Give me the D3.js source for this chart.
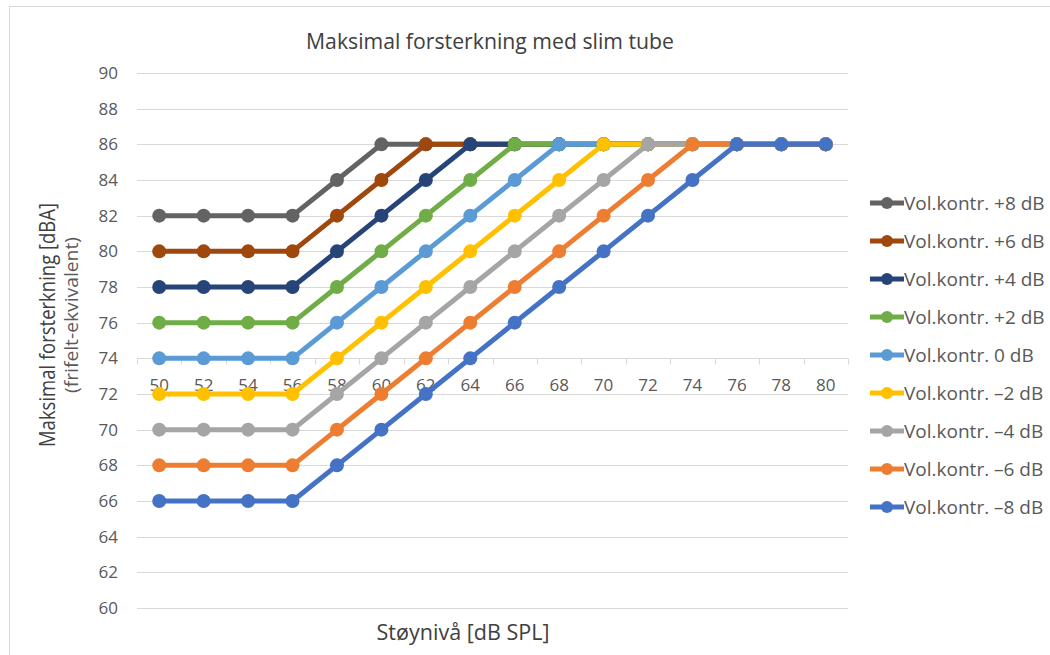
<!DOCTYPE html>
<html>
<head>
<meta charset="utf-8">
<script src="https://cdn.jsdelivr.net/npm/d3@7"></script>
<style>
  body { margin: 0; background: #fff; }
  text { font-family: "Open Sans", "DejaVu Sans", sans-serif; }
</style>
</head>
<body>
<div id="chart"></div>
<script>
// Kategorier (støynivå dB SPL)
var categories = [50, 52, 54, 56, 58, 60, 62, 64, 66, 68, 70, 72, 74, 76, 78, 80];

// Serier, lest av bildet
var seriesNames = ["Vol.kontr. +8 dB", "Vol.kontr. +6 dB", "Vol.kontr. +4 dB", "Vol.kontr. +2 dB",
                   "Vol.kontr. 0 dB", "Vol.kontr. –2 dB", "Vol.kontr. –4 dB", "Vol.kontr. –6 dB", "Vol.kontr. –8 dB"];
var plus8  = [82, 82, 82, 82, 84, 86, 86, 86, 86, 86, 86, 86, 86, 86, 86, 86];
var plus6  = [80, 80, 80, 80, 82, 84, 86, 86, 86, 86, 86, 86, 86, 86, 86, 86];
var plus4  = [78, 78, 78, 78, 80, 82, 84, 86, 86, 86, 86, 86, 86, 86, 86, 86];
var plus2  = [76, 76, 76, 76, 78, 80, 82, 84, 86, 86, 86, 86, 86, 86, 86, 86];
var zero   = [74, 74, 74, 74, 76, 78, 80, 82, 84, 86, 86, 86, 86, 86, 86, 86];
var minus2 = [72, 72, 72, 72, 74, 76, 78, 80, 82, 84, 86, 86, 86, 86, 86, 86];
var minus4 = [70, 70, 70, 70, 72, 74, 76, 78, 80, 82, 84, 86, 86, 86, 86, 86];
var minus6 = [68, 68, 68, 68, 70, 72, 74, 76, 78, 80, 82, 84, 86, 86, 86, 86];
var minus8 = [66, 66, 66, 66, 68, 70, 72, 74, 76, 78, 80, 82, 84, 86, 86, 86];
var seriesValues = [plus8, plus6, plus4, plus2, zero, minus2, minus4, minus6, minus8];
var seriesColors = ["#636363", "#9e480e", "#264478", "#70ad47", "#5b9bd5", "#ffc000", "#a5a5a5", "#ed7d31", "#4472c4"];

// Y-akse
var yTicks = [60, 62, 64, 66, 68, 70, 72, 74, 76, 78, 80, 82, 84, 86, 88, 90];
var axisCrossing = 74;

var width = 1050, height = 655;
var margin = { top: 73, right: 202, bottom: 47, left: 137 };

var svg = d3.select("#chart").append("svg")
    .attr("width", width)
    .attr("height", height);

// Ramme rundt diagrammet
svg.append("rect")
    .attr("x", 9.5).attr("y", 6.5)
    .attr("width", width + 10).attr("height", height + 10)
    .attr("fill", "none")
    .attr("stroke", "#d9d9d9")
    .attr("stroke-width", 1);

var x = d3.scaleBand()
    .domain(categories)
    .range([margin.left, width - margin.right]);

var y = d3.scaleLinear()
    .domain([60, 90])
    .range([height - margin.bottom, margin.top]);

// Rutenett
svg.append("g")
    .selectAll("line")
    .data(yTicks)
    .enter()
    .append("line")
    .attr("x1", margin.left)
    .attr("x2", width - margin.right)
    .attr("y1", function(d) { return Math.round(y(d)) + 0.5; })
    .attr("y2", function(d) { return Math.round(y(d)) + 0.5; })
    .attr("stroke", "#d9d9d9")
    .attr("stroke-width", 1);

// Y-tall
svg.append("g")
    .selectAll("text")
    .data(yTicks)
    .enter()
    .append("text")
    .attr("x", margin.left - 19)
    .attr("y", function(d) { return y(d); })
    .attr("dy", "0.35em")
    .attr("text-anchor", "end")
    .style("font-size", "17px")
    .style("fill", "#595959")
    .text(function(d) { return d; });

// X-akse ved 74
var xAxis = svg.append("g")
    .attr("transform", "translate(0," + (Math.round(y(axisCrossing)) + 0.5) + ")");
xAxis.append("line")
    .attr("x1", margin.left).attr("x2", width - margin.right)
    .attr("stroke", "#d9d9d9");
xAxis.selectAll("line.tick")
    .data(categories.concat(["end"]))
    .enter()
    .append("line")
    .attr("class", "tick")
    .attr("x1", function(d, i) { return Math.round(margin.left + i * x.step()) + 0.5; })
    .attr("x2", function(d, i) { return Math.round(margin.left + i * x.step()) + 0.5; })
    .attr("y1", 0).attr("y2", 6)
    .attr("stroke", "#d9d9d9");

// Serier: linjer og markører
var line = d3.line()
    .x(function(d, i) { return x(categories[i]) + x.bandwidth() / 2; })
    .y(function(d) { return y(d); });

seriesValues.forEach(function(vals, s) {
    var g = svg.append("g");
    g.append("path")
        .datum(vals)
        .attr("d", line)
        .attr("fill", "none")
        .attr("stroke", seriesColors[s])
        .attr("stroke-width", 5)
        .attr("stroke-linejoin", "round");
    g.selectAll("circle")
        .data(vals)
        .enter()
        .append("circle")
        .attr("cx", function(d, i) { return x(categories[i]) + x.bandwidth() / 2; })
        .attr("cy", function(d) { return y(d); })
        .attr("r", 7)
        .attr("fill", seriesColors[s]);
});

// X-tall (tegnes over linjene)
xAxis.selectAll("text")
    .data(categories)
    .enter()
    .append("text")
    .attr("x", function(d) { return x(d) + x.bandwidth() / 2; })
    .attr("y", 27)
    .attr("dy", "0.35em")
    .attr("text-anchor", "middle")
    .style("font-size", "17px")
    .style("fill", "#595959")
    .text(function(d) { return d; });

// Tittel (smal skrift, presses med textLength)
svg.append("text")
    .attr("x", 490)
    .attr("y", 49)
    .attr("text-anchor", "middle")
    .attr("textLength", 368)
    .attr("lengthAdjust", "spacingAndGlyphs")
    .style("font-size", "22px")
    .style("fill", "#404040")
    .text("Maksimal forsterkning med slim tube");

// Akse-titler
svg.append("text")
    .attr("transform", "translate(55,325) rotate(-90)")
    .attr("text-anchor", "middle")
    .attr("textLength", 244)
    .attr("lengthAdjust", "spacingAndGlyphs")
    .style("font-size", "21px")
    .style("fill", "#404040")
    .text("Maksimal forsterkning [dBA]");

svg.append("text")
    .attr("transform", "translate(78,315) rotate(-90)")
    .attr("text-anchor", "middle")
    .attr("textLength", 156)
    .attr("lengthAdjust", "spacingAndGlyphs")
    .style("font-size", "19px")
    .style("fill", "#595959")
    .text("(frifelt-ekvivalent)");

svg.append("text")
    .attr("x", 463)
    .attr("y", 640)
    .attr("text-anchor", "middle")
    .attr("textLength", 173)
    .attr("lengthAdjust", "spacingAndGlyphs")
    .style("font-size", "21px")
    .style("fill", "#404040")
    .text("Støynivå [dB SPL]");

// Forklaring
var legend = svg.append("g");
seriesNames.forEach(function(name, s) {
    var ly = 203 + s * 38;
    legend.append("line")
        .attr("x1", 870).attr("x2", 904)
        .attr("y1", ly).attr("y2", ly)
        .attr("stroke", seriesColors[s])
        .attr("stroke-width", 5);
    legend.append("circle")
        .attr("cx", 887).attr("cy", ly)
        .attr("r", 6)
        .attr("fill", seriesColors[s]);
    legend.append("text")
        .attr("x", 904)
        .attr("y", ly)
        .attr("dy", "0.35em")
        .style("font-size", "19px")
        .style("fill", "#595959")
        .text(name);
});
</script>
</body>
</html>
